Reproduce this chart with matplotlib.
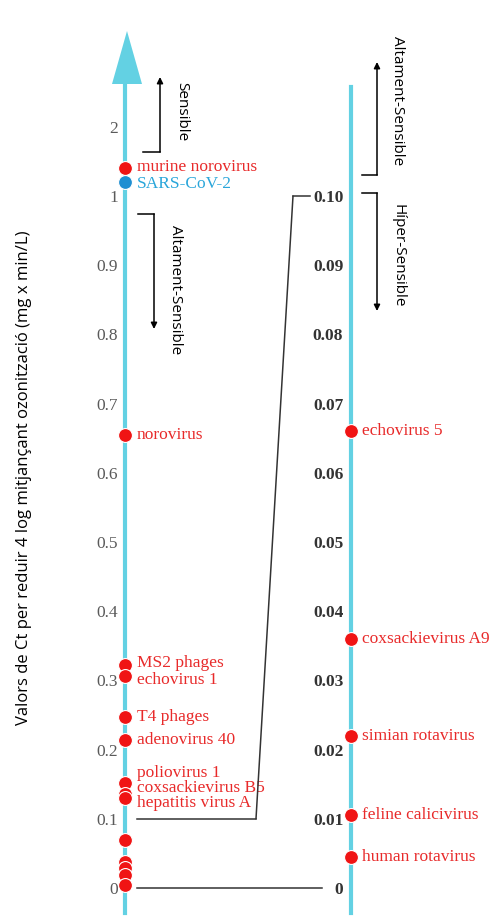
import numpy as np
import matplotlib
matplotlib.use("Agg")
import matplotlib.pyplot as plt
from matplotlib.ticker import FixedLocator, FixedFormatter
from matplotlib.patches import Polygon, ConnectionPatch
from matplotlib.lines import Line2D

# ---------------- data ----------------
left_names = ['murine norovirus', 'SARS-CoV-2', 'norovirus', 'MS2 phages', 'echovirus 1',
              'T4 phages', 'adenovirus 40', 'poliovirus 1', 'coxsackievirus B5', 'hepatitis virus A']
left_values = [1.4, 1.2, 0.655, 0.322, 0.306, 0.247, 0.214, 0.152, 0.136, 0.13]
left_colors = ['red', 'blue', 'red', 'red', 'red', 'red', 'red', 'red', 'red', 'red']
left_unlabeled_values = [0.07, 0.038, 0.029, 0.019, 0.005]

right_names = ['echovirus 5', 'coxsackievirus A9', 'simian rotavirus', 'feline calicivirus', 'human rotavirus']
right_values = [0.066, 0.036, 0.022, 0.0106, 0.0045]

left_ticks = [0, 0.1, 0.2, 0.3, 0.4, 0.5, 0.6, 0.7, 0.8, 0.9, 1, 2]
left_ticklabels = ['0', '0.1', '0.2', '0.3', '0.4', '0.5', '0.6', '0.7', '0.8', '0.9', '1', '2']
right_ticks = [0, 0.01, 0.02, 0.03, 0.04, 0.05, 0.06, 0.07, 0.08, 0.09, 0.10]
right_ticklabels = ['0', '0.01', '0.02', '0.03', '0.04', '0.05', '0.06', '0.07', '0.08', '0.09', '0.10']

ylabel = 'Valors de Ct per reduir 4 log mitjançant ozonització (mg x min/L)'

# ---------------- style / layout ----------------
W, H = 503, 923
CYAN = '#63d1e3'
RED = '#f01414'
RED_TXT = '#e82a2a'
BLUE = '#1f8fd2'
BLUE_TXT = '#2aa6da'
LINE = '#333333'
serif = 'Liberation Serif'
sans = 'Open Sans'

# label vertical offsets in pixels (positive = up)
left_label_dy = [1, -2, 0, 2, -4, 0, 0, 10, 6, -5]

X_LEFT, X_RIGHT = 125, 351


def fp(x, y):
    """pixel (from top-left) -> figure fraction"""
    return (x / W, 1 - y / H)


def fwd(v):
    v = np.asarray(v, dtype=float)
    return np.where(v <= 1, v, 1 + (v - 1) * 0.1)


def inv(f):
    f = np.asarray(f, dtype=float)
    return np.where(f <= 1, f, 1 + (f - 1) * 10)


fig = plt.figure(figsize=(W / 100, H / 100), dpi=100)
fig.patch.set_facecolor('white')
ax = fig.add_axes([0, 0, 1, 1])
ax.set_yscale('function', functions=(fwd, inv))
ax.set_xlim(0, W)
f_bot, f_top = -35 / 692, 888 / 692
ax.set_ylim(f_bot, float(inv(f_top)))
ax.patch.set_alpha(0)

ax2 = ax.twinx()
ax2.set_ylim(f_bot * 0.1, f_top * 0.1)
ax2.set_xlim(0, W)
ax2.patch.set_alpha(0)

for a in (ax, ax2):
    for s in ['top', 'right', 'bottom', 'left']:
        a.spines[s].set_visible(False)
    a.set_xticks([])

# left axis
ax.spines['left'].set_visible(True)
ax.spines['left'].set_position(('data', X_LEFT))
ax.spines['left'].set_color(CYAN)
ax.spines['left'].set_linewidth(3)
ax.spines['left'].set_bounds(-25 / 692, float(inv(805 / 692)))
ax.yaxis.set_major_locator(FixedLocator(left_ticks))
ax.yaxis.set_major_formatter(FixedFormatter(left_ticklabels))
ax.yaxis.set_minor_locator(FixedLocator([]))
ax.tick_params(axis='y', length=0, pad=5, labelsize=12.5, labelcolor='#5a5a5a')
for t in ax.get_yticklabels():
    t.set_fontfamily(serif)

# right axis
ax2.yaxis.tick_left()
ax2.spines['left'].set_visible(True)
ax2.spines['left'].set_position(('data', X_RIGHT))
ax2.spines['left'].set_color(CYAN)
ax2.spines['left'].set_linewidth(3)
ax2.spines['left'].set_bounds(-0.1 * 25 / 692, 0.1 * 801 / 692)
ax2.yaxis.set_major_locator(FixedLocator(right_ticks))
ax2.yaxis.set_major_formatter(FixedFormatter(right_ticklabels))
ax2.tick_params(axis='y', which='both', length=0, pad=5.5, labelsize=12.5,
                labelcolor='#333333', left=True, right=False, labelleft=True, labelright=False)
for t in ax2.get_yticklabels():
    t.set_fontfamily(serif)
    t.set_fontweight('bold')

# big arrowhead on left axis
tri = Polygon([fp(127, 31), fp(112, 84), fp(142, 84)], closed=True,
              transform=fig.transFigure, facecolor=CYAN, edgecolor='none')
fig.patches.append(tri)

# connector lines
ax.plot([137, 322], [0, 0], color=LINE, lw=1.1)
ax.plot([137, 256], [0.1, 0.1], color=LINE, lw=1.1)
con = ConnectionPatch(xyA=(256, 0.1), coordsA=ax.transData,
                      xyB=(293, 0.10), coordsB=ax2.transData,
                      color=LINE, lw=1.1)
fig.add_artist(con)
ax2.plot([293, 310], [0.10, 0.10], color=LINE, lw=1.1)

# left points
for name, v, c, dy in zip(left_names, left_values, left_colors, left_label_dy):
    col = BLUE if c == 'blue' else RED
    ax.plot([X_LEFT], [v], 'o', ms=10, color=col, mec='white', mew=0.8, zorder=5)
for name, v, c, dy in zip(left_names, left_values, left_colors, left_label_dy):
    tcol = BLUE_TXT if c == 'blue' else RED_TXT
    ax.annotate(name, (X_LEFT, v), xytext=(12, dy), textcoords='offset pixels',
                va='center', ha='left', fontsize=12.5, family=serif, color=tcol, zorder=6)
for v in left_unlabeled_values:
    ax.plot([X_LEFT], [v], 'o', ms=10, color=RED, mec='white', mew=0.8, zorder=5)

# right points
for name, v in zip(right_names, right_values):
    ax2.plot([X_RIGHT], [v], 'o', ms=10, color=RED, mec='white', mew=0.8, zorder=5)
    ax2.annotate(name, (X_RIGHT, v), xytext=(11, 0), textcoords='offset pixels',
                 va='center', ha='left', fontsize=12.5, family=serif, color=RED_TXT, zorder=6)

# brackets with arrows
def bracket(x0, y0, x1, y_end):
    fig.add_artist(Line2D([fp(x0, y0)[0], fp(x1, y0)[0]], [fp(x0, y0)[1], fp(x1, y0)[1]],
                          transform=fig.transFigure, color='black', lw=1.1))
    fig.add_artist(matplotlib.patches.FancyArrowPatch(
        fp(x1, y0), fp(x1, y_end), transform=fig.transFigure,
        arrowstyle='-|>', mutation_scale=9, color='black', lw=1.1, shrinkA=0, shrinkB=0))

bracket(143, 152, 160, 77)
bracket(138, 214, 154, 329)
bracket(362, 175, 377, 62)
bracket(362, 193, 377, 311)

fig.text(*fp(182, 112), 'Sensible', rotation=270, ha='center', va='center',
         fontsize=11, family=sans, color='black')
fig.text(*fp(175, 290), 'Altament-Sensible', rotation=270, ha='center', va='center',
         fontsize=11, family=sans, color='black')
fig.text(*fp(398, 101), 'Altament-Sensible', rotation=270, ha='center', va='center',
         fontsize=11, family=sans, color='black')
fig.text(*fp(398, 256), 'Híper-Sensible', rotation=270, ha='center', va='center',
         fontsize=11, family=sans, color='black')

fig.text(*fp(24, 478), ylabel, rotation=90, ha='center', va='center',
         fontsize=12, family=sans, color='black')

fig.savefig('out.png', dpi=100, facecolor='white')
